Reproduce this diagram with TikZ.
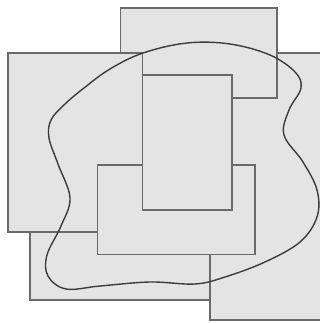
\documentclass[tikz,border=0pt]{standalone}
\begin{document}
\begin{tikzpicture}[x=1pt,y=-1pt,
  box/.style={draw=boxline,fill=boxfill,line width=1.6pt},
  blob/.style={draw=blobline,line width=1.4pt}]
\definecolor{boxfill}{HTML}{E4E4E4}
\definecolor{boxline}{HTML}{6A6A6A}
\definecolor{blobline}{HTML}{3C3C3C}
\useasboundingbox (0,0) rectangle (320,323);
\begin{scope}
\clip (0,0) rectangle (320,323);
% right big rectangle (bottom layer)
\draw[box] (210,53) rectangle (340,320);
% bottom-left rectangle
\draw[box] (30,150) rectangle (210,300);
% top rectangle
\draw[box] (120.5,8) rectangle (277,98);
% left big rectangle
\draw[box] (8,53) rectangle (142.5,232);
% lower middle rectangle
\draw[box] (97.5,165) rectangle (255,254.5);
% inner tall rectangle
\draw[box] (142.5,75) rectangle (232,210);
% closed curve
\draw[blob] plot[smooth cycle, tension=0.6] coordinates {
 (143,53) (187,43) (230,44) (270,55) (295,72) (301,88) (289,110)
 (284,135) (303,162) (317,190) (317,217) (300,242) (265,262)
 (225,277) (195,284) (150,282) (100,286) (66,289) (48,276)
 (47,255) (61,226) (70,198) (58,164) (49,138) (51,120) (65,104) (84,88) (110,69)};
\end{scope}
\end{tikzpicture}
\end{document}
